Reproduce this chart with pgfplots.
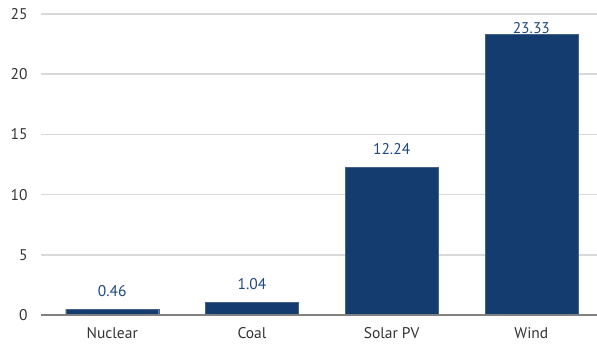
\documentclass[border=0pt]{standalone}
\usepackage{fontspec}
\setmainfont{PT Sans}
\usepackage{pgfplots}
\pgfplotsset{compat=1.18}
\definecolor{barblue}{HTML}{143C6E}
\definecolor{lblblue}{HTML}{1F4A7C}
\definecolor{gridgray}{HTML}{D9D9D9}
\definecolor{axgray}{HTML}{808080}
\definecolor{txtgray}{HTML}{333333}
\begin{document}
\begin{tikzpicture}
\begin{axis}[
  scale only axis,
  width=556pt, height=301pt,
  xmin=-0.51, xmax=3.47,
  ymin=0, ymax=25,
  ytick={0,5,10,15,20,25},
  xtick={0,1,2,3},
  xticklabels={Nuclear,Coal,Solar PV,Wind},
  axis line style={draw=none},
  ymajorgrids,
  grid style={gridgray, line width=1.5pt},
  major tick length=0pt,
  tick style={draw=none},
  font=\fontsize{15.5}{17}\selectfont,
  ticklabel style={text=txtgray, font=\fontsize{15.5}{17}\selectfont},
  yticklabel style={xshift=-10pt},
  xticklabel style={inner sep=0pt, yshift=-12.5pt},
  /pgf/number format/assume math mode=true,
  clip=false,
]
\addplot[ybar, bar width=93pt, bar shift=0pt, fill=barblue, draw=barblue!80!white,
  nodes near coords, nodes near coords style={text=lblblue, font=\fontsize{15.5}{17}\selectfont, anchor=south, yshift=9pt},
  point meta=explicit symbolic]
  coordinates {(0,0.46)[0.46] (1,1.04)[1.04] (2,12.24)[12.24]};
\addplot[ybar, bar width=93pt, bar shift=0pt, fill=barblue, draw=barblue!80!white,
  nodes near coords, nodes near coords style={text=lblblue, font=\fontsize{15.5}{17}\selectfont, anchor=south, yshift=-3pt},
  point meta=explicit symbolic]
  coordinates {(3,23.33)[23.33]};
\draw[axgray, line width=2pt] (rel axis cs:0,0) -- (rel axis cs:1.01,0);
\end{axis}
\pgfresetboundingbox
\path[use as bounding box] (-41pt,-28pt) rectangle (556pt,315pt);
\end{tikzpicture}
\end{document}
